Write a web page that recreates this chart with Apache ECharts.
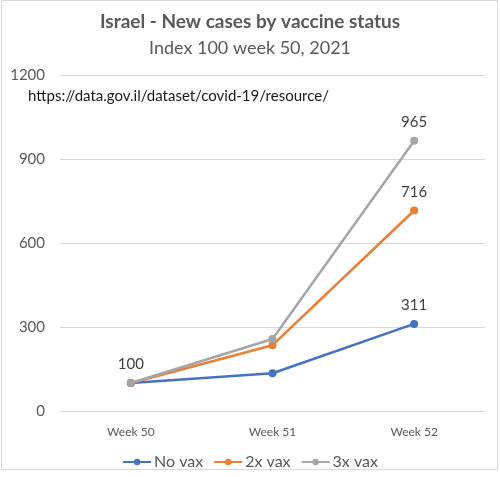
<!DOCTYPE html>
<html>
<head>
<meta charset="utf-8">
<script src="https://cdn.jsdelivr.net/npm/echarts@6/dist/echarts.min.js"></script>
<style>
html,body{margin:0;padding:0;background:#fff;}
#c{width:500px;height:477px;}
</style>
</head>
<body>
<div id="c"></div>
<script>
var categories = ['Week 50', 'Week 51', 'Week 52'];
var noVax = [100, 135, 311];
var vax2x = [100, 235, 716];
var vax3x = [100, 257, 965];
var seriesNames = ['No vax', '2x vax', '3x vax'];
var seriesColors = ['#4472C4', '#ED7D31', '#A5A5A5'];
var labelledPoints = [[2], [2], [0, 2]];
var yTicks = [0, 300, 600, 900, 1200];

var FONT = 'Lato, "Open Sans", sans-serif';
var chart = echarts.init(document.getElementById('c'), null, {renderer: 'canvas'});

function makeSeries(i, values) {
  return {
    name: seriesNames[i],
    type: 'line',
    data: values,
    symbol: 'circle',
    symbolSize: 8,
    lineStyle: {width: 2.5, color: seriesColors[i]},
    itemStyle: {color: seriesColors[i]},
    z: 2 + i,
    label: {
      show: true,
      position: 'top',
      distance: 7,
      color: '#404040',
      fontSize: 15,
      fontFamily: FONT,
      formatter: function (p) {
        return labelledPoints[i].indexOf(p.dataIndex) >= 0 ? String(p.value) : '';
      }
    }
  };
}

chart.setOption({
  backgroundColor: '#fff',
  animation: false,
  title: [{
    text: 'Israel - New cases by vaccine status',
    left: 'center',
    top: 7,
    textStyle: {fontFamily: FONT, fontSize: 19, fontWeight: 'bold', color: '#595959'}
  }, {
    text: 'Index 100 week 50, 2021',
    left: 'center',
    top: 34,
    textStyle: {fontFamily: FONT, fontSize: 18, fontWeight: 'normal', color: '#595959'}
  }],
  graphic: [{
    type: 'rect',
    shape: {x: 1.5, y: 0.5, width: 496, height: 469},
    style: {fill: 'none', stroke: '#d9d9d9', lineWidth: 1},
    silent: true
  }, {
    type: 'text',
    left: 28,
    top: 89,
    style: {text: 'https://data.gov.il/dataset/covid-19/resource/', font: '15px ' + FONT, fill: '#1a1a1a'},
    z: 10
  }],
  legend: {
    bottom: 2,
    left: 'center',
    itemWidth: 28,
    itemHeight: 8,
    itemGap: 10,
    textStyle: {fontFamily: FONT, fontSize: 16, color: '#595959', padding: [0, 0, 0, -2]},
    data: seriesNames
  },
  grid: {left: 60, right: 15, top: 75, bottom: 66, containLabel: false},
  xAxis: {
    type: 'category',
    data: categories,
    boundaryGap: true,
    axisLine: {show: true, lineStyle: {color: '#d9d9d9', width: 1}},
    axisTick: {show: false},
    axisLabel: {color: '#595959', fontSize: 12, fontFamily: FONT, margin: 15}
  },
  yAxis: {
    type: 'value',
    min: yTicks[0],
    max: yTicks[yTicks.length - 1],
    interval: yTicks[1] - yTicks[0],
    axisLine: {show: false},
    axisTick: {show: false},
    splitLine: {lineStyle: {color: '#d9d9d9', width: 1}},
    axisLabel: {color: '#595959', fontSize: 15, fontFamily: FONT, margin: 15, formatter: function (v) { return String(v); }}
  },
  series: [makeSeries(0, noVax), makeSeries(1, vax2x), makeSeries(2, vax3x)]
});
</script>
</body>
</html>
